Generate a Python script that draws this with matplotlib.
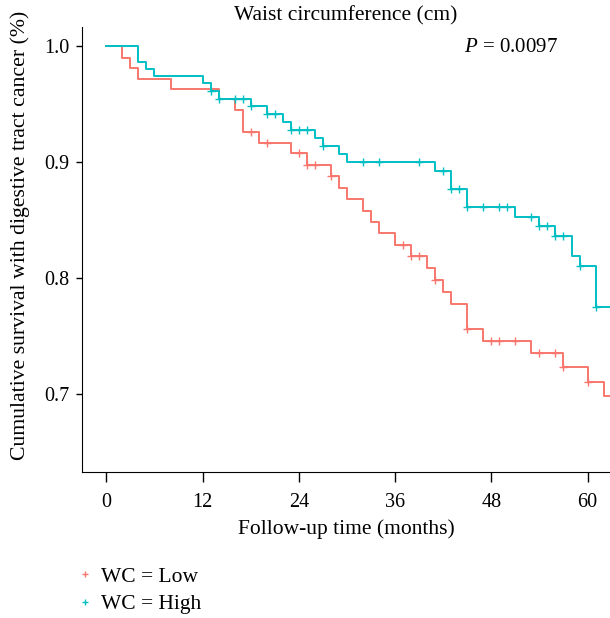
import matplotlib
matplotlib.use("Agg")
import matplotlib.pyplot as plt
import numpy as np
from matplotlib.lines import Line2D

plt.rcParams['font.family'] = ['Liberation Serif', 'DejaVu Serif']
plt.rcParams['mathtext.fontset'] = 'custom'
plt.rcParams['mathtext.it'] = 'Liberation Serif:italic'
plt.rcParams['mathtext.rm'] = 'Liberation Serif'

# Kaplan-Meier steps (time in months, survival after the drop)
low_time = [0, 2, 3, 4, 8, 14, 16, 17, 19, 23, 25, 28, 29, 30, 32, 33, 34, 36,
            38, 40, 41, 42, 43, 45, 47, 53, 57, 60, 62]
low_surv = [1.0, 0.990, 0.981, 0.972, 0.963, 0.954, 0.9446, 0.926, 0.9167, 0.9075,
            0.8977, 0.8877, 0.878, 0.868, 0.858, 0.8486, 0.8385, 0.8287, 0.819,
            0.8086, 0.798, 0.788, 0.7773, 0.7563, 0.7457, 0.7353, 0.723, 0.7103, 0.6983]
low_cens = [18, 20, 24, 25, 26, 28, 37, 38, 39, 41, 45, 48, 49, 51, 54, 56, 57, 60]

high_time = [0, 4, 5, 6, 12, 13, 14, 18, 20, 22, 23, 26, 27, 29, 30, 41, 43, 45,
             51, 54, 56, 58, 59, 61]
high_surv = [1.0, 0.9865, 0.980, 0.974, 0.968, 0.961, 0.954, 0.948, 0.941, 0.9345,
             0.9276, 0.9207, 0.9138, 0.9069, 0.8997, 0.8925, 0.877, 0.861, 0.853,
             0.8446, 0.836, 0.819, 0.810, 0.7747]
high_cens = [13, 14, 16, 17, 18, 20, 21, 23, 24, 25, 27, 32, 34, 39, 42, 43, 44, 45,
             47, 49, 50, 53, 54, 55, 56, 57, 59, 61]

groups = ["WC = Low", "WC = High"]
colors = ["#F8766D", "#00BFC4"]
x_ticks = [0, 12, 24, 36, 48, 60]
y_ticks = [0.7, 0.8, 0.9, 1.0]
t_end = 63

fig = plt.figure(figsize=(6.10, 6.18), dpi=100)
ax = fig.add_axes([0.1349, 0.2358, 0.8651, 0.7205])

for tt, ss, cc, col in [(low_time, low_surv, low_cens, colors[0]),
                        (high_time, high_surv, high_cens, colors[1])]:
    tt = np.array(tt + [t_end])
    ss = np.array(ss + [ss[-1]])
    ax.step(tt, ss, where='post', color=col, lw=1.4)
    idx = np.searchsorted(tt, cc, side='right') - 1
    ax.plot(cc, ss[idx], linestyle='none', marker='+', color=col, ms=6, mew=1.0)

ax.set_xlim(-3.0, 62.8)
ax.set_ylim(0.6325, 1.0164)
ax.set_xticks(x_ticks)
ax.set_yticks(y_ticks)
ax.set_yticklabels([f"{v:.1f}" for v in y_ticks])
ax.spines['top'].set_visible(False)
ax.spines['right'].set_visible(False)
ax.tick_params(axis='x', length=7, width=1, labelsize=14.5, pad=8)
ax.tick_params(axis='y', length=4.5, width=1, labelsize=14.5, pad=5)

ax.set_xlabel("Follow-up time (months)", fontsize=15.5, labelpad=5)
ax.set_ylabel("Cumulative survival with digestive tract cancer (%)", fontsize=15.7)
ax.yaxis.set_label_coords(-0.100, 0.533)
ax.set_title("Waist circumference (cm)", fontsize=15.5, pad=5)
ax.text(0.724, 0.955, "$\\it{P}$ = 0.0097", transform=ax.transAxes, fontsize=15,
        va='center', ha='left')

handles = [Line2D([], [], linestyle='none', marker='+', color=c, ms=5, mew=1.0)
           for c in colors]
fig.legend(handles, groups, loc='upper left', bbox_to_anchor=(0.107, 0.097),
           frameon=False, fontsize=15.5, handletextpad=0.25, labelspacing=0.35,
           handlelength=1.0, borderaxespad=0)

fig.savefig("out.png", dpi=100)
